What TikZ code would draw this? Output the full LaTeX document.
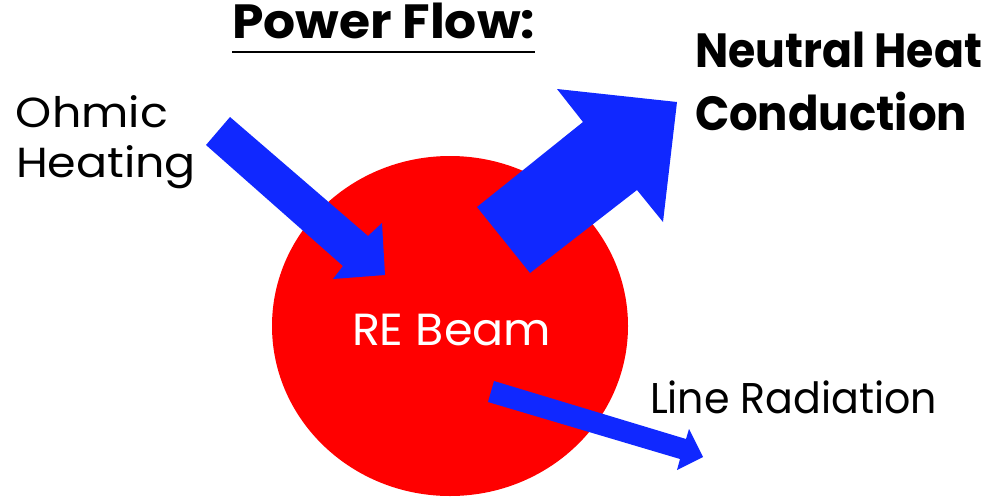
\documentclass[tikz,border=0pt]{standalone}
\usepackage{fontspec}
\usepackage{graphicx}
\setmainfont{Poppins}
\definecolor{arrowblue}{RGB}{16,40,255}
\definecolor{beamred}{RGB}{255,0,0}
\newcommand{\fitto}[2]{\resizebox{#1}{\height}{#2}}
\begin{document}
\begin{tikzpicture}[x=1pt,y=-1pt,
  blockarrow/.style={fill=arrowblue,draw=none},
  lbl/.style={anchor=base west,inner sep=0pt,outer sep=0pt,text=black},
  reg/.style={lbl,font=\fontsize{42}{42}\selectfont},
  bld/.style={lbl,font=\fontsize{48}{48}\selectfont\bfseries}]
\useasboundingbox (0,0) rectangle (995,498);
% beam
\fill[beamred] (450,326) ellipse [x radius=178,y radius=170];
\node[reg,text=white,font=\fontsize{45}{45}\selectfont] (beam) at (352,345) {\fitto{199pt}{RE Beam}};
% ohmic heating arrow
\coordinate (o1) at (230,117); \coordinate (o2) at (368,236);
\coordinate (o3) at (382,223); \coordinate (o4) at (385,275);
\coordinate (o5) at (333,279); \coordinate (o6) at (343,266);
\coordinate (o7) at (206,145);
\fill[blockarrow] (o1)--(o2)--(o3)--(o4)--(o5)--(o6)--(o7)--cycle;
% neutral heat conduction arrow
\coordinate (n1) at (477,207); \coordinate (n2) at (583,122);
\coordinate (n3) at (557,89); \coordinate (n4) at (677,102);
\coordinate (n5) at (663,222); \coordinate (n6) at (637,190);
\coordinate (n7) at (530,273);
\fill[blockarrow] (n1)--(n2)--(n3)--(n4)--(n5)--(n6)--(n7)--cycle;
% line radiation arrow
\coordinate (l1) at (494,381); \coordinate (l2) at (686,439);
\coordinate (l3) at (689,429); \coordinate (l4) at (703,457);
\coordinate (l5) at (677,470); \coordinate (l6) at (680,459);
\coordinate (l7) at (488,402);
\fill[blockarrow] (l1)--(l2)--(l3)--(l4)--(l5)--(l6)--(l7)--cycle;
% labels
\node[bld] (title) at (232,38) {\fitto{303pt}{Power Flow:}};
\draw[line width=2.7pt] (232,52) -- (535,52);
\node[reg] (ohm1) at (16,127) {\fitto{152pt}{Ohmic}};
\node[reg] (ohm2) at (16,177) {\fitto{180pt}{Heating}};
\node[reg,font=\fontsize{43}{43}\selectfont] (lrad) at (650,413) {\fitto{287pt}{Line Radiation}};
\node[bld] (nh1) at (695,67) {\fitto{287pt}{Neutral Heat}};
\node[bld] (nh2) at (695,130) {\fitto{272pt}{Conduction}};
\end{tikzpicture}
\end{document}
